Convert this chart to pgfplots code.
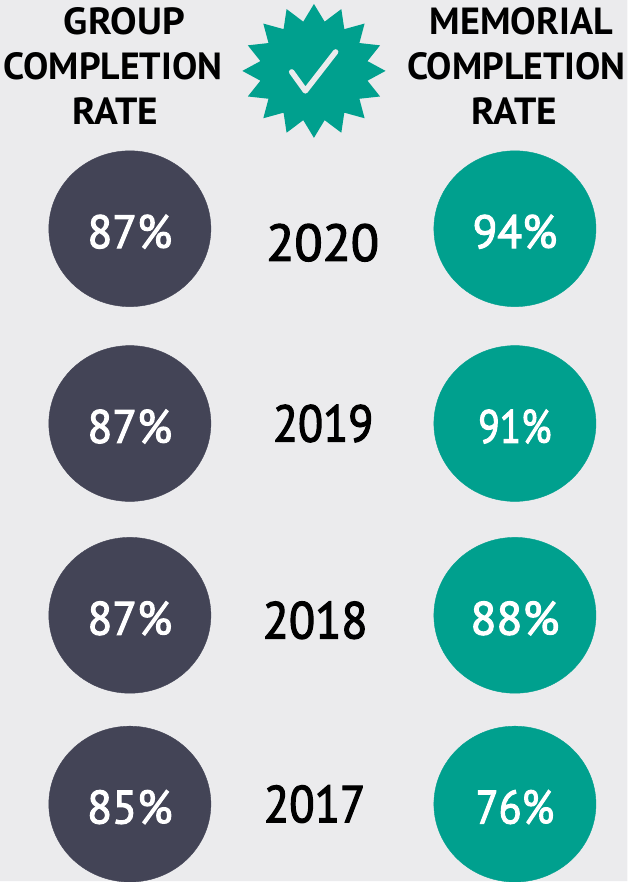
\documentclass[border=0pt]{standalone}
\usepackage{fontspec}
\setmainfont{PT Sans}
\newfontfamily\med[FakeBold=2.4]{PT Sans}
\usepackage{graphicx}
\usepackage{pgfplots}
\pgfplotsset{compat=1.18}
\definecolor{bg}{HTML}{EBEBED}
\definecolor{teal}{HTML}{00A08E}
\definecolor{slate}{HTML}{434456}
\newcommand{\hd}{\fontsize{38}{45}\bfseries\selectfont}
\newcommand{\sx}[2]{\scalebox{#1}[1]{#2}}
\begin{document}
\begin{tikzpicture}
\begin{axis}[width=628bp,height=882bp,scale only axis,xmin=0,xmax=628,ymin=0,ymax=882,axis lines=none,
  nodes near coords align={center}]
\addplot[fill=bg,draw=none] coordinates {(0,0)(628,0)(628,882)(0,882)} \closedcycle;
% star
\addplot[fill=teal,draw=none] coordinates {(314.3,878) (325,860.3) (341.7,872.9) (344.7,852.8) (365,858.4) (359.8,838.9) (380.5,836.6) (367.9,820.8) (386,811) (367.9,801.2) (380.5,785.4) (359.8,783.1) (365,763.6) (344.7,769.2) (341.7,749.1) (325,761.7) (314.3,744) (303.6,761.7) (286.9,749.1) (283.9,769.2) (263.6,763.6) (268.8,783.1) (248.1,785.4) (260.7,801.2) (242.6,811) (260.7,820.8) (248.1,836.6) (268.8,838.9) (263.6,858.4) (283.9,852.8) (286.9,872.9) (303.6,860.3)} -- cycle;
\addplot[draw=bg,line width=5.5bp,line cap=round,line join=round] coordinates {(292,810)(305.7,791)(336,830)};
% circles
\addplot[only marks,color=slate,mark=*,mark size=78bp,mark options={fill=slate,draw=slate,xscale=1.04},
  point meta=explicit symbolic,nodes near coords,
  every node near coord/.style={anchor=center,text=white,font=\fontsize{47}{50}\med\selectfont,yshift=-3bp}]
  coordinates {(130,653)[\sx{0.97}{87\%}] (130,458)[\sx{0.97}{87\%}] (130,266)[\sx{0.97}{87\%}] (130,77)[\sx{0.98}{85\%}]};
\addplot[only marks,color=teal,mark=*,mark size=78bp,mark options={fill=teal,draw=teal,xscale=1.04},
  point meta=explicit symbolic,nodes near coords,
  every node near coord/.style={anchor=center,text=white,font=\fontsize{47}{50}\med\selectfont,yshift=-3bp}]
  coordinates {(515.5,653)[\sx{0.97}{94\%}] (515.5,458)[\sx{0.84}{91\%}] (515.5,266)[\sx{1.02}{88\%}] (515.5,77)[\sx{0.90}{76\%}]};
% years
\addplot[only marks,mark=none,draw=none,
  point meta=explicit symbolic,nodes near coords,
  every node near coord/.style={anchor=center,text=black,font=\fontsize{52}{55}\med\selectfont}]
  coordinates {(323,639)[\sx{1.0}{2020}] (323.5,458)[\sx{0.89}{2019}] (315.5,261)[\sx{0.93}{2018}] (315,77)[\sx{0.9}{2017}]};
\node[font=\hd,anchor=center] at (axis cs:124.5,861) {\sx{1.05}{GROUP}};
\node[font=\hd,anchor=center] at (axis cs:113,816) {COMPLETION};
\node[font=\hd,anchor=center] at (axis cs:115.5,771) {\sx{1.04}{RATE}};
\node[font=\hd,anchor=center] at (axis cs:522,861) {\sx{1.01}{MEMORIAL}};
\node[font=\hd,anchor=center] at (axis cs:517,816) {COMPLETION};
\node[font=\hd,anchor=center] at (axis cs:515,771) {\sx{1.04}{RATE}};
\end{axis}
\end{tikzpicture}
\end{document}
